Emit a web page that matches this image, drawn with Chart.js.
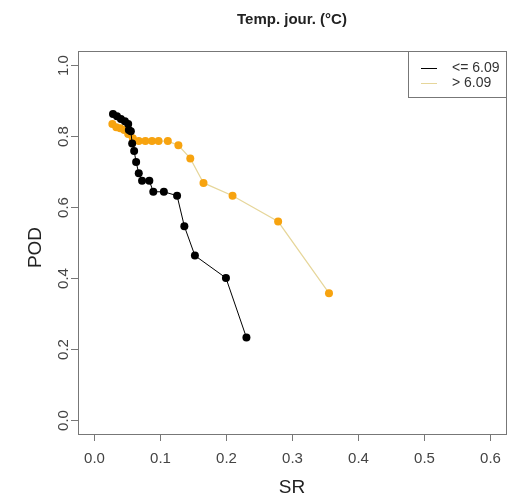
<!DOCTYPE html>
<html>
<head>
<meta charset="utf-8">
<script src="https://cdn.jsdelivr.net/npm/chart.js@4"></script>
<style>
  body { margin: 0; background: #fff; }
  canvas { display: block; }
</style>
</head>
<body>
<canvas id="chart" width="510" height="499"></canvas>
<script>
// Data
const srLow = [0.029, 0.035, 0.041, 0.047, 0.052, 0.053, 0.056, 0.058, 0.061, 0.064, 0.068, 0.073, 0.084, 0.090, 0.106, 0.126, 0.137, 0.153, 0.200, 0.231];
const podLow = [0.862, 0.856, 0.848, 0.842, 0.834, 0.817, 0.814, 0.779, 0.758, 0.727, 0.695, 0.674, 0.674, 0.643, 0.643, 0.632, 0.546, 0.463, 0.400, 0.232];
const srHigh = [0.028, 0.034, 0.040, 0.046, 0.052, 0.059, 0.068, 0.078, 0.088, 0.098, 0.112, 0.128, 0.146, 0.166, 0.210, 0.279, 0.356];
const podHigh = [0.834, 0.825, 0.822, 0.817, 0.806, 0.794, 0.786, 0.786, 0.786, 0.786, 0.786, 0.774, 0.737, 0.668, 0.632, 0.559, 0.357];

const xTicks = [0, 0.1, 0.2, 0.3, 0.4, 0.5, 0.6];
const yTicks = [0, 0.2, 0.4, 0.6, 0.8, 1.0];
const seriesLabels = ["<= 6.09", "> 6.09"];
const chartTitle = "Temp. jour. (°C)";
const xTitle = "SR";
const yTitle = "POD";

const FONT = "'Liberation Sans', Arial, sans-serif";
const lowColor = "#000000";
const highPoint = "#F7A30F";
const highLine = "#E6D69A";

function toPoints(xs, ys) {
    return xs.map((x, i) => ({ x: x, y: ys[i] }));
}

// R-style frame, ticks, labels and legend
const rFrame = {
    id: "rFrame",
    afterDraw(chart) {
        const ctx = chart.ctx;
        const a = chart.chartArea;
        const xs = chart.scales.x;
        const ys = chart.scales.y;
        ctx.save();
        ctx.strokeStyle = "#777";
        ctx.lineWidth = 1;
        ctx.strokeRect(Math.round(a.left) + 0.5, Math.round(a.top) + 0.5,
            Math.round(a.right - a.left), Math.round(a.bottom - a.top));

        // x axis
        ctx.fillStyle = "#444";
        ctx.font = "15px " + FONT;
        ctx.textAlign = "center";
        ctx.textBaseline = "middle";
        xTicks.forEach((t) => {
            const px = Math.round(xs.getPixelForValue(t)) + 0.5;
            ctx.beginPath();
            ctx.moveTo(px, a.bottom);
            ctx.lineTo(px, a.bottom + 7);
            ctx.stroke();
            ctx.fillText(t.toFixed(1), px, 459);
        });

        // y axis
        yTicks.forEach((t) => {
            const py = Math.round(ys.getPixelForValue(t)) + 0.5;
            ctx.beginPath();
            ctx.moveTo(a.left, py);
            ctx.lineTo(a.left - 7, py);
            ctx.stroke();
            ctx.save();
            ctx.translate(64, py);
            ctx.rotate(-Math.PI / 2);
            ctx.fillText(t.toFixed(1), 0, 0);
            ctx.restore();
        });

        // titles
        ctx.fillStyle = "#222";
        ctx.font = "19px " + FONT;
        const cx = (a.left + a.right) / 2;
        const cy = (a.top + a.bottom) / 2;
        ctx.fillText(xTitle, cx, 488);
        ctx.save();
        ctx.translate(36, cy + 5);
        ctx.rotate(-Math.PI / 2);
        ctx.fillText(yTitle, 0, 0);
        ctx.restore();

        ctx.font = "bold 15px " + FONT;
        ctx.fillText(chartTitle, cx, 20);

        // legend
        const lx = 408, ly = a.top, lw = a.right - 408, lh = 46;
        ctx.fillStyle = "#fff";
        ctx.fillRect(lx, ly, lw, lh);
        ctx.strokeStyle = "#777";
        ctx.strokeRect(lx + 0.5, Math.round(ly) + 0.5, Math.round(lw), lh);
        const legendColors = [lowColor, highLine];
        ctx.font = "14px " + FONT;
        ctx.textAlign = "left";
        seriesLabels.forEach((lab, i) => {
            const y = Math.round(ly + 17 + i * 15) + 0.5;
            ctx.strokeStyle = legendColors[i];
            ctx.beginPath();
            ctx.moveTo(421, y);
            ctx.lineTo(437, y);
            ctx.stroke();
            ctx.fillStyle = "#333";
            ctx.fillText(lab, 452, y);
        });
        ctx.restore();
    }
};

new Chart(document.getElementById("chart"), {
    type: "scatter",
    data: {
        datasets: [
            {
                label: seriesLabels[0],
                data: toPoints(srLow, podLow),
                showLine: true,
                borderColor: lowColor,
                borderWidth: 1,
                backgroundColor: lowColor,
                pointBackgroundColor: lowColor,
                pointBorderColor: lowColor,
                pointRadius: 4,
                pointBorderWidth: 0,
            },
            {
                label: seriesLabels[1],
                data: toPoints(srHigh, podHigh),
                showLine: true,
                borderColor: highLine,
                borderWidth: 1.2,
                backgroundColor: highPoint,
                pointBackgroundColor: highPoint,
                pointBorderColor: highPoint,
                pointRadius: 4,
                pointBorderWidth: 0,
            },
        ],
    },
    options: {
        responsive: false,
        animation: false,
        layout: { padding: { left: 78, top: 51, right: 2, bottom: 65 } },
        plugins: {
            legend: { display: false },
            tooltip: { enabled: false },
        },
        scales: {
            x: { type: "linear", min: -0.024, max: 0.624, display: false },
            y: { type: "linear", min: -0.04, max: 1.04, display: false },
        },
    },
    plugins: [rFrame],
});
</script>
</body>
</html>
